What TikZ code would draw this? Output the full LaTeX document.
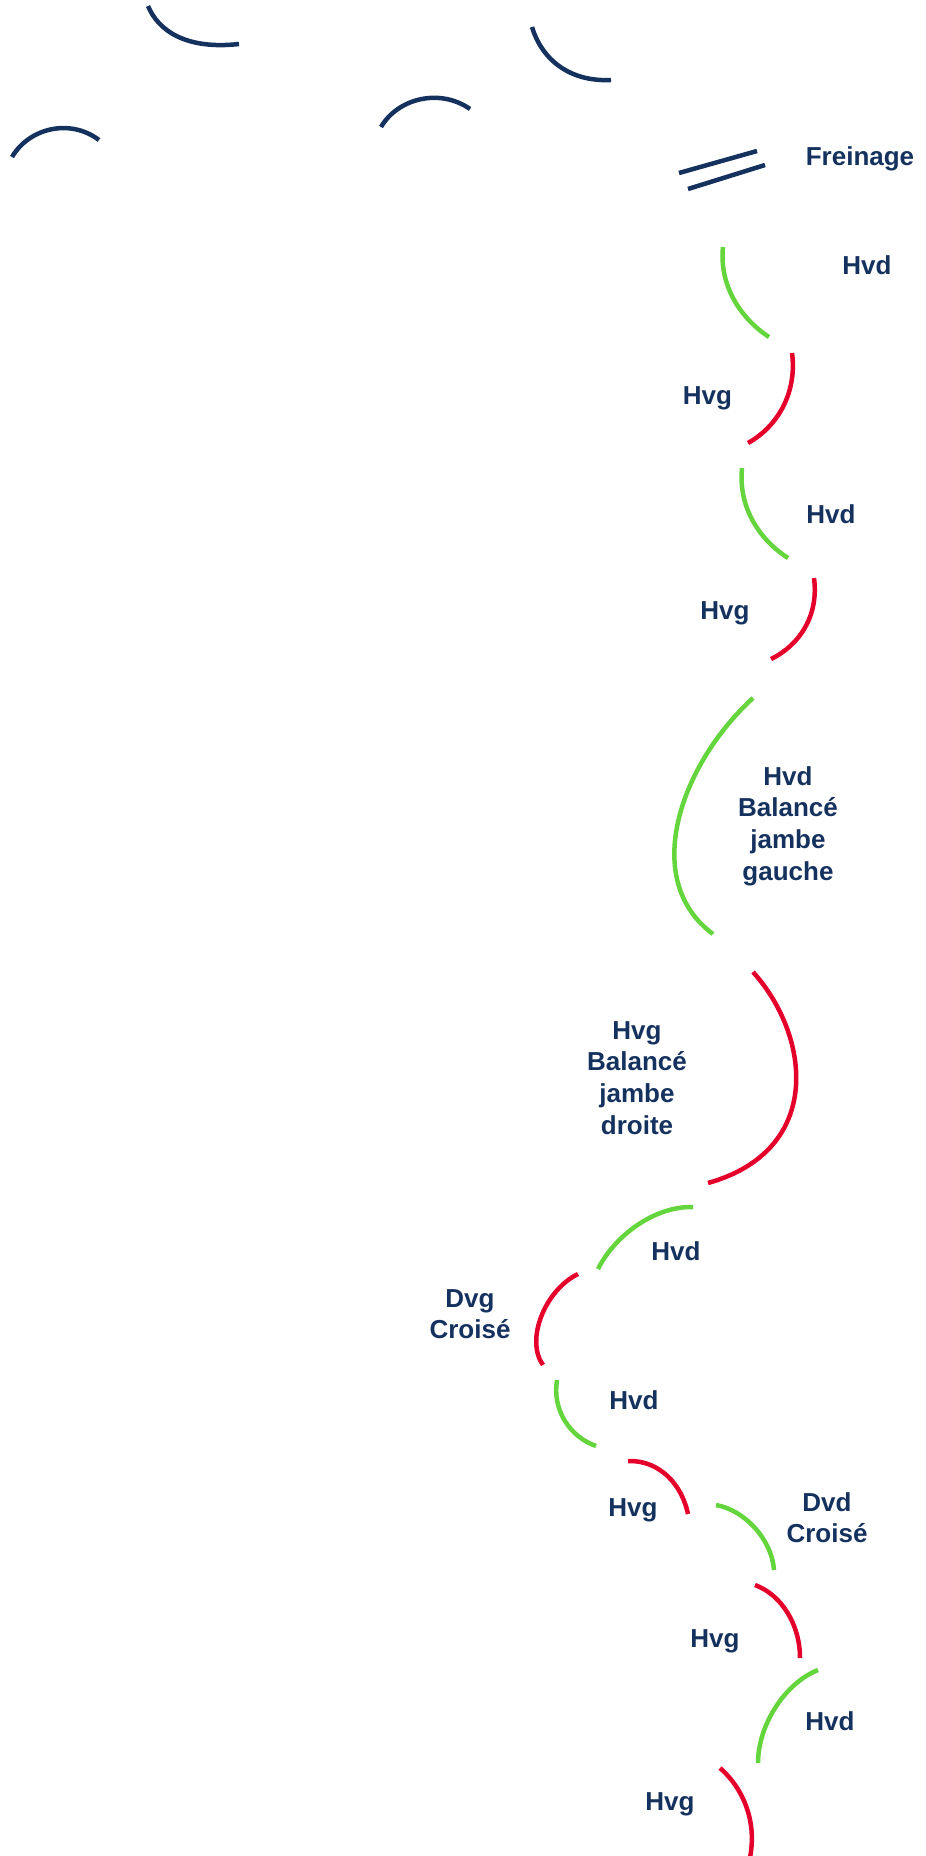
\documentclass[tikz,border=0pt]{standalone}
\usepackage{fontspec}
\setmainfont{Liberation Sans}
\definecolor{navyc}{HTML}{15325F}
\definecolor{greenc}{HTML}{64D53C}
\definecolor{redc}{HTML}{E4002B}
\newcommand{\stackl}[1]{\begin{tabular}[t]{@{}c@{}}#1\end{tabular}}
\begin{document}
\begin{tikzpicture}[x=1pt,y=-1pt,
  navyarc/.style={draw=navyc,line width=4.5pt},
  greenarc/.style={draw=greenc,line width=4.5pt},
  redarc/.style={draw=redc,line width=4.5pt},
  lbl/.style={text=navyc,font=\bfseries\fontsize{26}{31.7}\selectfont,inner sep=0pt,anchor=base}]
\useasboundingbox (0,0) rectangle (926,1856);
\clip (0,0) rectangle (926,1856);
% top navy arcs
\draw[navyarc] (148,6) .. controls (158,30) and (185,50) .. (239,44);
\draw[navyarc] (532,27) .. controls (542,60) and (570,82) .. (611,80);
\draw[navyarc] (381,127) .. controls (398,98) and (440,88) .. (470,109);
\draw[navyarc] (12,157) .. controls (29,128) and (70,118) .. (99,140);
% Freinage lines
\draw[navyarc] (679,173) -- (757,151);
\draw[navyarc] (688,189) -- (765,165);
% colored arcs
\draw[greenarc] (723,247) .. controls (719,285) and (740,318) .. (769,337);
\draw[redarc] (792,353) .. controls (797,390) and (780,425) .. (748,443);
\draw[greenarc] (742,468) .. controls (738,508) and (760,540) .. (788,558);
\draw[redarc] (814,578) .. controls (819,615) and (800,645) .. (771,659);
\draw[greenarc] (753,698) .. controls (680,765) and (640,880) .. (713,934);
\draw[redarc] (753,972) .. controls (810,1035) and (825,1150) .. (708,1183);
\draw[greenarc] (693,1207) .. controls (655,1206) and (615,1235) .. (598,1269);
\draw[redarc] (578,1274) .. controls (545,1290) and (525,1340) .. (543,1365);
\draw[greenarc] (557,1380) .. controls (552,1410) and (570,1437) .. (596,1446);
\draw[redarc] (628,1461) .. controls (660,1460) and (682,1485) .. (688,1514);
\draw[greenarc] (716,1505) .. controls (745,1510) and (772,1540) .. (774,1570);
\draw[redarc] (755,1585) .. controls (782,1595) and (800,1625) .. (800,1658);
\draw[greenarc] (818,1670) .. controls (785,1683) and (758,1725) .. (758,1763);
\draw[redarc] (720,1768) .. controls (745,1790) and (758,1825) .. (749,1862);
% labels
\node[lbl] (freinage) at (860,165) {Freinage};
\node[lbl] (l1) at (867,274) {Hvd};
\node[lbl] (l2) at (707.5,404) {Hvg};
\node[lbl] (l3) at (831,523) {Hvd};
\node[lbl] (l4) at (725,619) {Hvg};
\node[lbl] (l5) at (788,785) {\stackl{Hvd\\Balancé\\jambe\\gauche}};
\node[lbl] (l6) at (637,1039) {\stackl{Hvg\\Balancé\\jambe\\droite}};
\node[lbl] (l7) at (676,1260) {Hvd};
\node[lbl] (l8) at (470,1307) {\stackl{Dvg\\Croisé}};
\node[lbl] (l9) at (634,1409) {Hvd};
\node[lbl] (l10) at (633,1516) {Hvg};
\node[lbl] (l11) at (827,1511) {\stackl{Dvd\\Croisé}};
\node[lbl] (l12) at (715,1647) {Hvg};
\node[lbl] (l13) at (830,1730) {Hvd};
\node[lbl] (l14) at (670,1810) {Hvg};
\end{tikzpicture}
\end{document}
